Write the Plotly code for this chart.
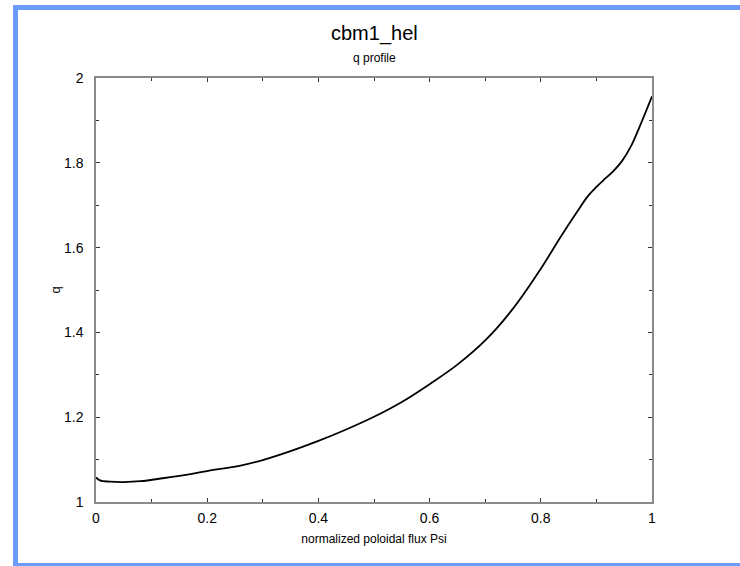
import plotly.graph_objects as go

psi = [0, 0.007, 0.025, 0.05, 0.08, 0.12, 0.17, 0.2, 0.26, 0.3, 0.35, 0.4, 0.45, 0.5, 0.55,
       0.6, 0.65, 0.7, 0.75, 0.8, 0.835, 0.865, 0.885, 0.9, 0.912, 0.93, 0.946, 0.963,
       0.978, 1.0]
q = [1.058, 1.051, 1.048, 1.047, 1.049, 1.056, 1.066, 1.073, 1.086, 1.099, 1.12, 1.144,
     1.171, 1.201, 1.236, 1.278, 1.324, 1.381, 1.456, 1.55, 1.624, 1.684, 1.722, 1.743,
     1.758, 1.78, 1.804, 1.841, 1.886, 1.957]

title = "cbm1_hel"
subtitle = "q profile"
xlabel = "normalized poloidal flux Psi"
ylabel = "q"

W, H = 740, 566
L, R, T, B = 96, 88, 78, 64
pw, ph = W - L - R, H - T - B

def px(x):
    return (x - L) / pw

def py(y):
    return (H - B - y) / ph

fig = go.Figure()
fig.add_trace(go.Scatter(x=psi, y=q, mode="lines",
                         line=dict(color="black", width=1.8, shape="spline", smoothing=1.0),
                         hoverinfo="skip", showlegend=False))

font = "Liberation Sans, Arial, Helvetica, sans-serif"
axis_common = dict(showline=True, linecolor="#8a8a8a", linewidth=1.5, mirror="ticks",
                   ticks="inside", ticklen=4, tickcolor="#333", tickwidth=1,
                   showgrid=False, zeroline=False, dtick=0.2,
                   minor=dict(dtick=0.1, ticks="inside", ticklen=3, tickcolor="#333", showgrid=False),
                   tickfont=dict(family=font, size=14, color="black"))

fig.update_xaxes(range=[0, 1], tick0=0, ticklabelstandoff=2, **axis_common,
                 title=dict(text=xlabel, font=dict(family=font, size=12, color="black"), standoff=10))
fig.update_yaxes(range=[1, 2], tick0=1, ticklabelstandoff=8, **axis_common,
                 title=dict(text=ylabel, font=dict(family=font, size=13, color="black"), standoff=0))

blue = "#6b9bff"
shapes = [
    dict(type="rect", xref="paper", yref="paper", x0=px(13), x1=px(18), y0=py(566), y1=py(5),
         fillcolor=blue, line=dict(width=0), layer="below"),
    dict(type="rect", xref="paper", yref="paper", x0=px(13), x1=px(740), y0=py(10), y1=py(5),
         fillcolor=blue, line=dict(width=0), layer="below"),
    dict(type="rect", xref="paper", yref="paper", x0=px(13), x1=px(740), y0=py(566), y1=py(563),
         fillcolor=blue, line=dict(width=0), layer="below"),
]

annotations = [
    dict(text=title, xref="paper", yref="paper", x=0.5, y=py(33), showarrow=False,
         font=dict(family=font, size=20, color="black"), xanchor="center", yanchor="middle"),
    dict(text=subtitle, xref="paper", yref="paper", x=0.5, y=py(58), showarrow=False,
         font=dict(family=font, size=12, color="black"), xanchor="center", yanchor="middle"),
]

fig.update_layout(width=W, height=H, margin=dict(l=L, r=R, t=T, b=B),
                  paper_bgcolor="white", plot_bgcolor="white",
                  shapes=shapes, annotations=annotations, showlegend=False)

fig.write_html("out.html")
